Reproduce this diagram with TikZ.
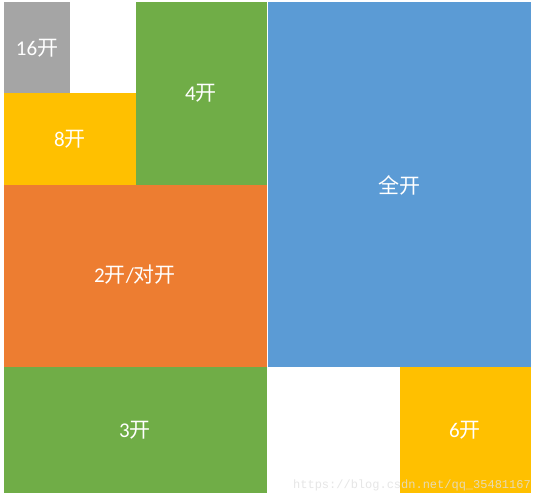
\documentclass[tikz,border=0pt]{standalone}
\usepackage{fontspec}
\setmainfont{Carlito}
\newfontfamily\cjk{Noto Sans CJK SC}
\newfontfamily\wmfont{Liberation Mono}
\definecolor{cgray}{HTML}{A5A5A5}
\definecolor{cyellow}{HTML}{FFC000}
\definecolor{cgreen}{HTML}{70AD47}
\definecolor{corange}{HTML}{ED7D31}
\definecolor{cblue}{HTML}{5B9BD5}
\tikzset{
  sheet/.style={inner sep=0pt, outer sep=0pt, text=white, font=\fontsize{21}{23}\selectfont},
}
\begin{document}
\begin{tikzpicture}[x=1pt,y=-1pt]
\useasboundingbox (0,0) rectangle (537,500);
\fill[white] (0,0) rectangle (537,500);
% rectangles
\fill[cgray] (4,2) rectangle (70,93);
\fill[cyellow] (4,93) rectangle (136,185);
\fill[cgreen] (136,2) rectangle (267,185);
\fill[corange] (4,185) rectangle (267,367);
\fill[cgreen] (4,367) rectangle (267,493);
\fill[cblue] (268,2) rectangle (531,367);
\fill[cyellow] (400,367) rectangle (531,493);
% labels
\node[sheet] (n16) at (37,48) {16{\cjk 开}};
\node[sheet] (n8) at (70,139) {8{\cjk 开}};
\node[sheet] (n4) at (201,93) {4{\cjk 开}};
\node[sheet] (nall) at (399,185) {{\cjk 全开}};
\node[sheet] (n2) at (135,275) {2{\cjk 开}/{\cjk 对开}};
\node[sheet] (n3) at (135,430) {3{\cjk 开}};
\node[sheet] (n6) at (465,430) {6{\cjk 开}};
\node[inner sep=0pt, text=black!12, text opacity=0.8, font=\wmfont\fontsize{12}{12}\selectfont, anchor=east] (wm) at (531,485) {https://blog.csdn.net/qq\_35481167};
\end{tikzpicture}
\end{document}
